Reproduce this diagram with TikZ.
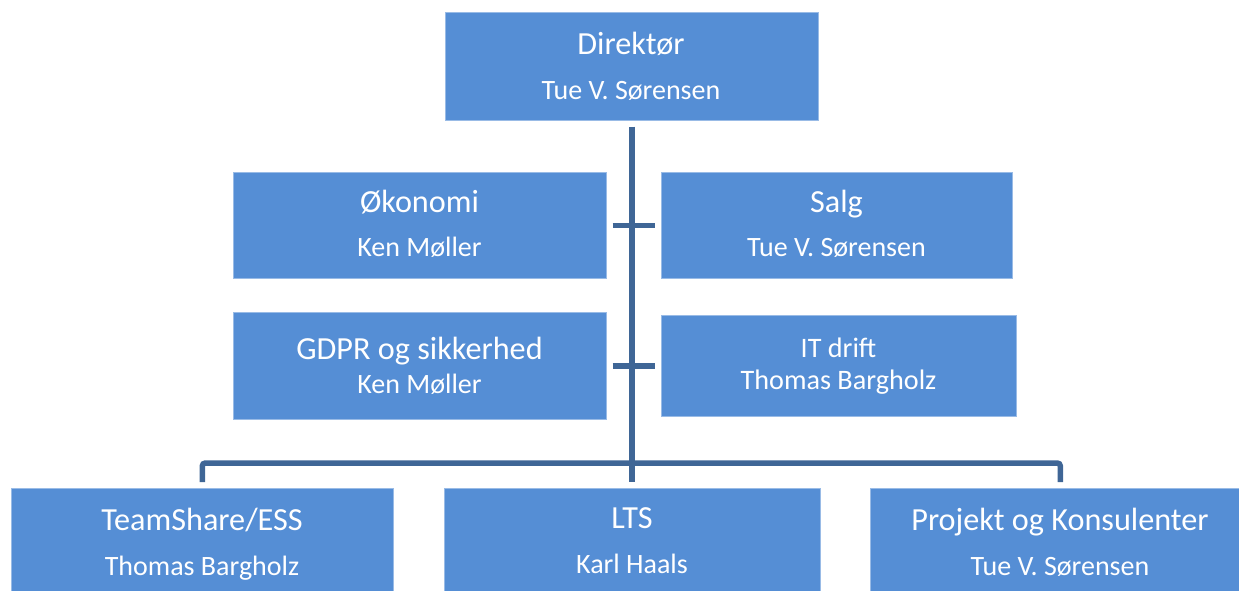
\documentclass[tikz,border=0pt]{standalone}
\usepackage{fontspec}
\setmainfont{Carlito}
\definecolor{boxblue}{HTML}{558ED5}
\definecolor{lineblue}{HTML}{3F6696}
\begin{document}
\begin{tikzpicture}[x=1pt,y=-1pt,
  box/.style={fill=boxblue,draw=boxblue!60!white,line width=0.6pt,inner sep=0pt,anchor=north west},
  ttl/.style={text=white,anchor=base,inner sep=0pt,font=\fontsize{32.2}{32}\selectfont},
  nm/.style={text=white,anchor=base,inner sep=0pt,font=\fontsize{28}{28}\selectfont},
  sm/.style={text=white,anchor=base,inner sep=0pt,font=\fontsize{28.2}{28}\selectfont},
  conn/.style={draw=lineblue,line width=5.5pt},
]
\useasboundingbox (0,0) rectangle (1239,590);
% boxes
\node[box,minimum width=373pt,minimum height=108pt] (d) at (445,12) {};
\node[box,minimum width=373pt,minimum height=106pt] (oek) at (233,172) {};
\node[box,minimum width=351pt,minimum height=106pt] (salg) at (661,172) {};
\node[box,minimum width=373pt,minimum height=107pt] (gdpr) at (233,312) {};
\node[box,minimum width=355pt,minimum height=101pt] (it) at (661,315) {};
\node[box,minimum width=382pt,minimum height=120pt] (ts) at (11,488) {};
\node[box,minimum width=376pt,minimum height=120pt] (lts) at (444,488) {};
\node[box,minimum width=380pt,minimum height=120pt] (pk) at (870,488) {};
% texts
\node[ttl] (dT) at (631,54) {Direktør};
\node[nm] (dN) at (631,99) {Tue V. Sørensen};
\node[ttl] (oekT) at (419.5,212) {Økonomi};
\node[nm] (oekN) at (419.5,256) {Ken Møller};
\node[ttl] (salgT) at (836.5,212) {Salg};
\node[nm] (salgN) at (836.5,256) {Tue V. Sørensen};
\node[ttl] (gdprT) at (419.5,359) {GDPR og sikkerhed};
\node[nm] (gdprN) at (419.5,393) {Ken Møller};
\node[sm] (itT) at (838.5,357) {IT drift};
\node[sm] (itN) at (838.5,389) {Thomas Bargholz};
\node[ttl] (tsT) at (202,530) {TeamShare/ESS};
\node[nm] (tsN) at (202,575) {Thomas Bargholz};
\node[ttl] (ltsT) at (632,528) {LTS};
\node[nm] (ltsN) at (632,573) {Karl Haals};
\node[ttl] (pkT) at (1060,530) {Projekt og Konsulenter};
\node[nm] (pkN) at (1060,575) {Tue V. Sørensen};
% connectors
\coordinate (top) at ([yshift=-6pt]d.south);
\coordinate (bar) at (top |- 0,463);
\draw[conn,line width=6pt] (top) -- ([yshift=6pt]top |- lts.north);
\draw[conn] ([xshift=6pt]oek.east) -- ([xshift=-6pt]salg.west);
\draw[conn] ([xshift=6pt]gdpr.east) -- ([xshift=-6pt]it.west);
\draw[conn,rounded corners=3pt] ([yshift=6pt]ts.north) -- (ts.north |- bar) -- (pk.north |- bar) -- ([yshift=6pt]pk.north);
\end{tikzpicture}
\end{document}
